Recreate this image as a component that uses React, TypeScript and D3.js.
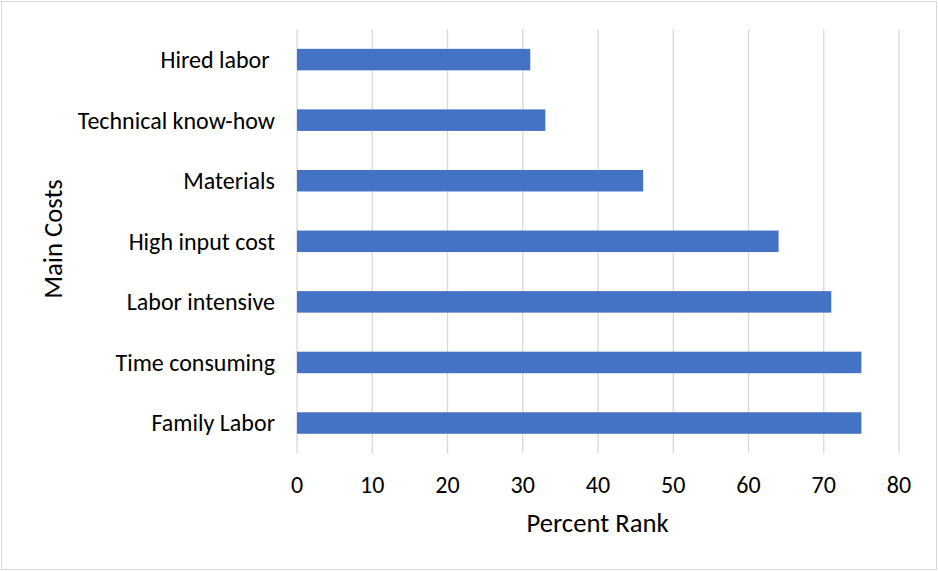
import React from "react";
import * as d3 from "d3";

// Cost categories, top to bottom, and their percent-rank values
const categories: string[] = [
  "Hired labor ",
  "Technical know-how",
  "Materials",
  "High input cost",
  "Labor intensive",
  "Time consuming",
  "Family Labor",
];
const percentRank: number[] = [31, 33, 46, 64, 71, 75, 75];
const xTicks: number[] = [0, 10, 20, 30, 40, 50, 60, 70, 80];

const WIDTH = 938;
const HEIGHT = 571;
const FONT = "Calibri, Carlito, Lato, 'Open Sans', sans-serif";
const BAR_COLOR = "#4472C4";
const GRID_COLOR = "#d9d9d9";
const LABEL_SIZE = 24;
const TITLE_SIZE = 26.7;

const plot = { left: 297, right: 899, top: 29.3, bottom: 453.3 };

export default function App() {
  const x = d3.scaleLinear().domain([0, 80]).range([plot.left, plot.right]);
  const y = d3
    .scaleBand<string>()
    .domain(categories)
    .range([plot.top, plot.bottom])
    .paddingInner(0.645)
    .paddingOuter(0.3225);

  const rows = categories.map((c, i) => ({ category: c, value: percentRank[i] }));

  return (
    <svg
      width={WIDTH}
      height={HEIGHT}
      style={{ position: "absolute", left: 0, top: 0, background: "#fff" }}
      fontFamily={FONT}
    >
      <rect x={1.5} y={1.5} width={WIDTH - 3} height={HEIGHT - 3} fill="#fff" stroke={GRID_COLOR} strokeWidth={1} />

      {/* vertical gridlines */}
      {xTicks.map((t) => (
        <line
          key={`g${t}`}
          x1={x(t)}
          x2={x(t)}
          y1={plot.top}
          y2={plot.bottom}
          stroke={GRID_COLOR}
          strokeWidth={1.3}
        />
      ))}

      {/* bars */}
      {rows.map((d) => (
        <rect
          key={d.category}
          x={x(0)}
          y={y(d.category)}
          width={x(d.value) - x(0)}
          height={y.bandwidth()}
          fill={BAR_COLOR}
        />
      ))}

      {/* category labels */}
      {rows.map((d) => (
        <text
          key={`l${d.category}`}
          x={275}
          y={(y(d.category) ?? 0) + y.bandwidth() / 2}
          dy="0.35em"
          textAnchor="end"
          fontSize={LABEL_SIZE}
          fill="#000"
          style={{ whiteSpace: "pre" }}
        >
          {d.category}
        </text>
      ))}

      {/* x tick labels */}
      {xTicks.map((t) => (
        <text
          key={`t${t}`}
          x={x(t)}
          y={485}
          dy="0.35em"
          textAnchor="middle"
          fontSize={LABEL_SIZE}
          fill="#000"
        >
          {t}
        </text>
      ))}

      {/* axis titles */}
      <text x={597.5} y={522.8} dy="0.35em" textAnchor="middle" fontSize={TITLE_SIZE} fill="#000">
        Percent Rank
      </text>
      <text
        transform={`translate(52.7, 239) rotate(-90)`}
        dy="0.35em"
        textAnchor="middle"
        fontSize={TITLE_SIZE}
        fill="#000"
      >
        Main Costs
      </text>
    </svg>
  );
}
